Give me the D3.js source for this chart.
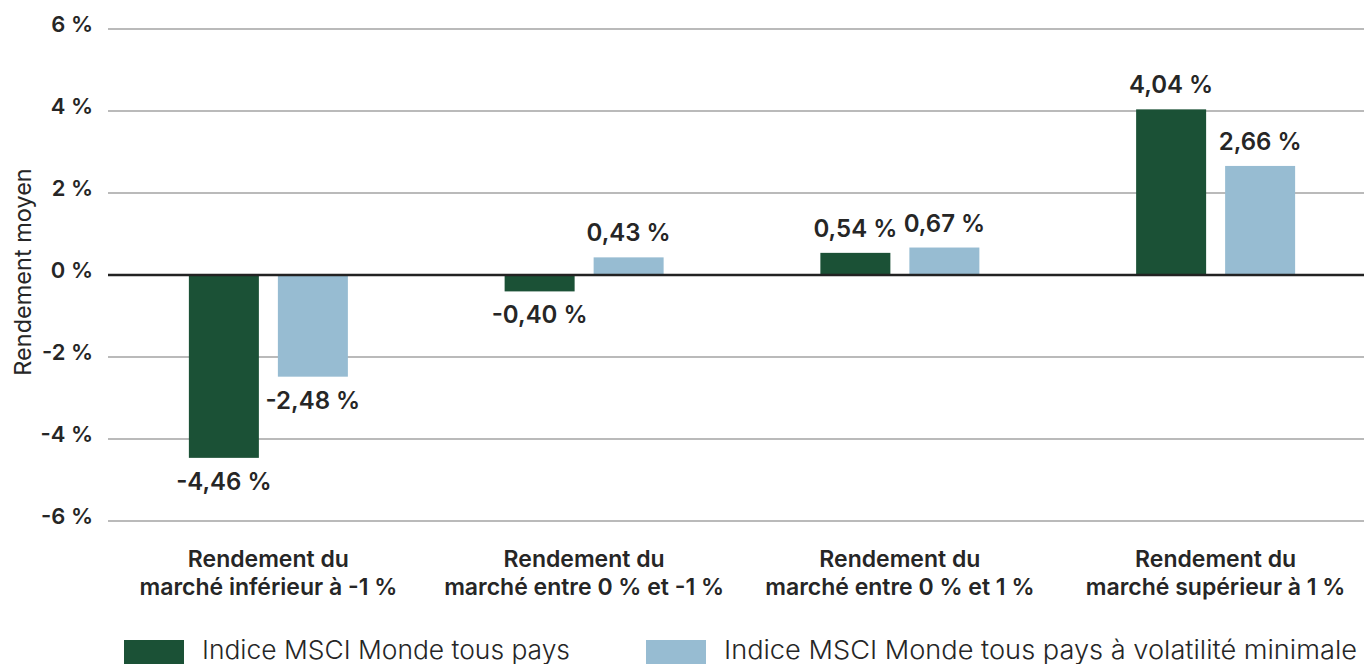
<!DOCTYPE html>
<html>
<head>
<meta charset="utf-8">
<script src="https://cdn.jsdelivr.net/npm/d3@7"></script>
<style>
  body { margin: 0; background: #fff; }
  svg { display: block; font-family: Inter, "Open Sans", sans-serif; }
</style>
</head>
<body>
<svg id="chart"></svg>
<script>
// chart size
var w = 1364;
var h = 664;

// data
var categories = [
    ["Rendement du", "marché inférieur à -1 %"],
    ["Rendement du", "marché entre 0 % et -1 %"],
    ["Rendement du", "marché entre 0 % et 1 %"],
    ["Rendement du", "marché supérieur à 1 %"]
];
var seriesNames = ["Indice MSCI Monde tous pays", "Indice MSCI Monde tous pays à volatilité minimale"];
var msciWorld = [-4.46, -0.40, 0.54, 4.04];
var msciMinVol = [-2.48, 0.43, 0.67, 2.66];
var yTicks = [-6, -4, -2, 0, 2, 4, 6];
var colors = ["#1b5136", "#97bcd2"];

function fmt(v) {
    return v.toFixed(2).replace(".", ",") + " %";
}

var svg = d3.select("#chart").attr("width", w).attr("height", h);

var y = d3.scaleLinear().domain([-6, 6]).range([521, 29]);
var x0 = d3.scaleBand().domain(d3.range(categories.length)).range([110.5, 1373.5]);
var bw = x0.bandwidth();
var x1 = d3.scaleBand().domain([0, 1]).range([(bw - 159) / 2, (bw + 159) / 2]).paddingInner(0.2135);

// gridlines + tick labels
var grid = svg.append("g");
yTicks.forEach(function (t) {
    grid.append("line")
        .attr("x1", 108).attr("x2", w)
        .attr("y1", y(t)).attr("y2", y(t))
        .style("stroke", "#a3a3a3")
        .style("stroke-width", 1.3);
    grid.append("text")
        .attr("x", 93).attr("y", y(t) + 3)
        .attr("text-anchor", "end")
        .style("font-size", "22px")
        .style("font-weight", 600)
        .style("fill", "#262626")
        .text(t + " %");
});

// y title
svg.append("text")
    .attr("transform", "translate(31,272)rotate(-90)")
    .attr("text-anchor", "middle")
    .style("font-size", "23.5px")
    .style("font-weight", 400)
    .style("fill", "#262626")
    .text("Rendement moyen");

// bars
var rows = categories.map(function (c, i) {
    return [msciWorld[i], msciMinVol[i]];
});

var groups = svg.selectAll("g.grp").data(rows).enter()
    .append("g").attr("class", "grp")
    .attr("transform", function (d, i) { return "translate(" + x0(i) + ",0)"; });

groups.selectAll("rect").data(function (d) { return d; }).enter()
    .append("rect")
    .attr("x", function (d, j) { return x1(j); })
    .attr("width", x1.bandwidth())
    .attr("y", function (d) { return y(Math.max(0, d)); })
    .attr("height", function (d) { return Math.abs(y(d) - y(0)); })
    .style("fill", function (d, j) { return colors[j]; });

groups.selectAll("text.val").data(function (d) { return d; }).enter()
    .append("text").attr("class", "val")
    .attr("x", function (d, j) { return x1(j) + x1.bandwidth() / 2; })
    .attr("y", function (d) { return d >= 0 ? y(d) - 16 : y(d) + 32; })
    .attr("text-anchor", "middle")
    .style("font-size", "24px")
    .style("font-weight", 600)
    .style("fill", "#262626")
    .text(fmt);

// zero line on top
svg.append("line")
    .attr("x1", 108).attr("x2", w)
    .attr("y1", y(0)).attr("y2", y(0))
    .style("stroke", "#222")
    .style("stroke-width", 2.5);

// category labels
categories.forEach(function (c, i) {
    var t = svg.append("text")
        .attr("text-anchor", "middle")
        .style("font-size", "23px")
        .style("font-weight", 600)
        .style("fill", "#262626");
    c.forEach(function (line, k) {
        t.append("tspan")
            .attr("x", x0(i) + bw / 2)
            .attr("y", 567 + k * 28)
            .text(line);
    });
});

// legend
var legX = [124, 646];
var legLen = [368, 633];
seriesNames.forEach(function (s, i) {
    svg.append("rect")
        .attr("x", legX[i]).attr("y", 640)
        .attr("width", 60).attr("height", 24)
        .style("fill", colors[i]);
    svg.append("text")
        .attr("x", legX[i] + 78).attr("y", 659)
        .attr("textLength", legLen[i])
        .attr("lengthAdjust", "spacingAndGlyphs")
        .style("font-size", "26px")
        .style("font-weight", 300)
        .style("fill", "#262626")
        .text(s);
});
</script>
</body>
</html>
